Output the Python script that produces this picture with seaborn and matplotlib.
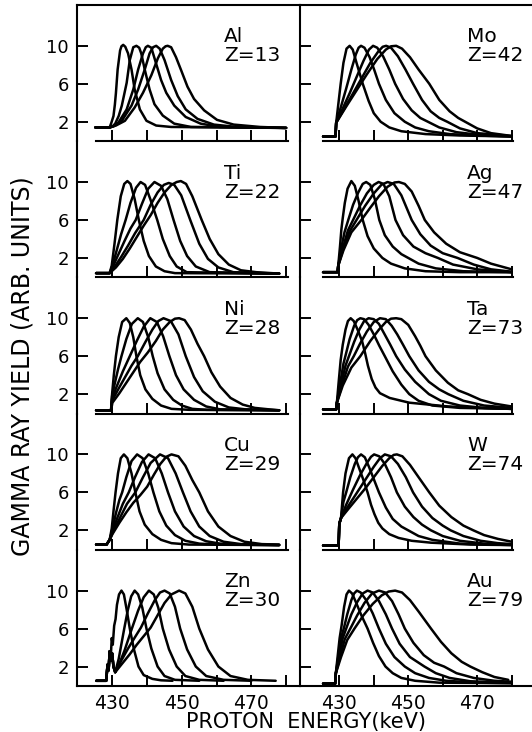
import matplotlib
matplotlib.use("Agg")
import matplotlib.pyplot as plt
import pandas as pd
import seaborn as sns

# ---------------- data ----------------
ELEMENTS = ["Al", "Ti", "Ni", "Cu", "Zn", "Mo", "Ag", "Ta", "W", "Au"]
Z_NUMBERS = [13, 22, 28, 29, 30, 42, 47, 73, 74, 79]
Y_TICKS = [2, 6, 10]
X_TICKS = [430, 440, 450, 460, 470, 480]
X_TICK_LABELS = ["430", "", "450", "", "470", ""]

AL_CURVES = [
    [(425.1, 1.4), (429.2, 1.4), (429.7, 1.9), (430.3, 2.6), (430.7, 3.8), (431.0, 5.0), (431.5, 7.5), (432.2, 9.5), (432.6, 9.95),
     (433.1, 10.1), (433.7, 9.9), (434.5, 9.2), (435.5, 7.5), (436.4, 5.4), (437.9, 3.3), (439.8, 2.1), (442.6, 1.6), (446.9, 1.45),
     (480.0, 1.35)],
    [(425.1, 1.4), (429.2, 1.4), (430.0, 1.5), (430.8, 1.8), (431.8, 2.6), (432.7, 3.7), (434.1, 6.1), (435.0, 8.5), (436.0, 9.85),
     (436.9, 10.0), (437.7, 9.8), (438.3, 9.2), (439.3, 7.5), (440.7, 5.4), (442.1, 3.85), (444.5, 2.65), (447.8, 1.8), (452.6, 1.45),
     (480.0, 1.35)],
    [(425.1, 1.4), (429.2, 1.4), (430.3, 1.55), (431.7, 1.9), (434.1, 3.3), (436.0, 5.4), (437.4, 7.5), (438.8, 9.2), (439.6, 9.85),
     (440.2, 10.0), (441.2, 9.8), (442.6, 8.1), (444.0, 6.4), (445.5, 5.05), (447.8, 3.7), (451.1, 2.5), (455.4, 1.8), (461.0, 1.45),
     (480.0, 1.35)],
    [(425.1, 1.4), (429.2, 1.4), (430.5, 1.55), (432.7, 2.1), (435.5, 3.7), (437.4, 5.4), (439.3, 7.5), (440.7, 9.2), (441.7, 9.85),
     (442.6, 10.0), (443.6, 9.7), (445.0, 8.5), (446.9, 6.4), (448.8, 4.7), (451.1, 3.3), (454.5, 2.3), (459.2, 1.7), (465.8, 1.45),
     (480.0, 1.35)],
    [(425.1, 1.4), (429.2, 1.4), (431.0, 1.6), (433.6, 2.1), (436.4, 3.5), (438.8, 5.05), (441.2, 6.9), (443.1, 8.7), (444.5, 9.7),
     (445.3, 9.95), (445.9, 10.0), (446.9, 9.85), (448.3, 8.8), (449.7, 7.5), (451.6, 5.7), (453.5, 4.4), (456.4, 3.2), (460.1, 2.2),
     (464.9, 1.7), (472.5, 1.45), (480.0, 1.35)],
]

TI_CURVES = [
    [(425.3, 0.4), (429.2, 0.4), (429.8, 1.2), (430.6, 3.5), (431.4, 6.0), (432.4, 8.5), (433.4, 9.8), (434.3, 10.1), (435.2, 9.8),
     (436.4, 8.2), (437.6, 6.0), (439.0, 3.8), (440.5, 2.2), (442.5, 1.1), (445.0, 0.6), (448.0, 0.4), (478.0, 0.35)],
    [(425.3, 0.4), (429.2, 0.4), (430.0, 1.2), (431.0, 2.5), (432.5, 4.5), (433.8, 6.0), (435.2, 7.8), (436.8, 9.4), (438.1, 10.0),
     (439.4, 9.7), (441.0, 8.1), (442.9, 6.0), (444.5, 4.0), (446.5, 2.2), (448.5, 1.1), (451.4, 0.5), (478.0, 0.35)],
    [(425.3, 0.4), (429.2, 0.4), (430.0, 1.0), (431.5, 2.2), (433.5, 3.8), (435.2, 5.1), (436.7, 6.0), (438.5, 7.7), (440.3, 9.3),
     (442.1, 10.0), (444.0, 9.6), (445.8, 8.2), (447.6, 6.0), (449.5, 3.8), (451.5, 2.2), (454.0, 1.1), (458.0, 0.5), (478.0, 0.35)],
    [(425.3, 0.4), (429.2, 0.4), (430.5, 1.0), (432.5, 2.1), (434.5, 3.3), (436.5, 4.6), (439.0, 6.0), (441.0, 7.6), (443.0, 8.9),
     (444.8, 9.7), (446.2, 9.9), (447.8, 9.7), (449.8, 8.6), (452.4, 6.0), (455.0, 3.5), (457.5, 1.9), (460.5, 1.0), (464.8, 0.5), (478.0, 0.35)],
    [(425.3, 0.4), (429.2, 0.4), (431.0, 1.0), (433.0, 1.9), (435.0, 3.0), (437.0, 4.2), (439.0, 5.4), (441.0, 6.5), (443.0, 7.8),
     (445.0, 8.9), (447.0, 9.7), (448.5, 10.0), (449.7, 10.1), (451.2, 9.8), (453.0, 8.5), (455.7, 6.0), (458.0, 4.0), (460.5, 2.4),
     (463.5, 1.3), (467.0, 0.7), (471.4, 0.5), (478.0, 0.35)],
]

NI_CURVES = [
    [(425.3, 0.3), (429.6, 0.3), (429.9, 2.0), (430.4, 4.0), (431.0, 6.0), (431.8, 8.0), (432.8, 9.6), (434.0, 10.0), (435.0, 9.5),
     (436.0, 8.0), (436.9, 6.0), (438.0, 4.0), (439.5, 2.5), (441.5, 1.5), (444.0, 0.8), (447.0, 0.45), (452.0, 0.35), (478.0, 0.3)],
    [(425.3, 0.3), (429.6, 0.3), (429.9, 1.8), (430.6, 3.0), (431.6, 4.6), (432.6, 6.0), (434.0, 7.8), (435.6, 9.4), (437.3, 10.0),
     (438.8, 9.6), (440.3, 8.0), (441.6, 6.0), (443.0, 4.2), (445.0, 2.5), (447.5, 1.4), (450.0, 0.8), (453.0, 0.45), (457.0, 0.35), (478.0, 0.3)],
    [(425.3, 0.3), (429.6, 0.3), (429.9, 1.5), (431.0, 2.6), (433.0, 4.4), (435.0, 6.0), (437.0, 7.6), (439.0, 9.1), (440.9, 10.0),
     (442.8, 9.6), (444.6, 8.1), (446.4, 6.0), (448.3, 4.0), (450.5, 2.5), (453.5, 1.4), (457.0, 0.7), (461.0, 0.4), (478.0, 0.3)],
    [(425.3, 0.3), (429.6, 0.3), (429.9, 1.3), (431.5, 2.4), (433.5, 3.7), (435.5, 5.0), (437.3, 6.0), (439.5, 7.5), (441.5, 8.8),
     (443.2, 9.7), (444.7, 10.0), (446.8, 9.7), (449.0, 8.3), (451.1, 6.0), (453.5, 3.8), (456.0, 2.3), (459.5, 1.2), (463.5, 0.6),
     (468.3, 0.4), (478.0, 0.3)],
    [(425.3, 0.3), (429.6, 0.3), (430.0, 1.1), (432.0, 2.1), (434.0, 3.2), (436.0, 4.3), (438.0, 5.4), (440.2, 6.4), (442.5, 7.6),
     (444.5, 8.8), (446.5, 9.6), (448.0, 9.95), (449.2, 10.0), (450.8, 9.8), (452.6, 8.8), (454.5, 7.3), (456.4, 6.0), (458.5, 4.3),
     (461.0, 2.8), (464.0, 1.6), (467.5, 0.9), (471.0, 0.55), (475.0, 0.4), (478.0, 0.3)],
]

CU_CURVES = [
    [(425.3, 0.5), (428.3, 0.5), (429.2, 1.0), (429.8, 2.2), (430.3, 4.0), (430.9, 6.0), (431.6, 8.0), (432.4, 9.6), (433.3, 10.0),
     (434.3, 9.6), (435.5, 8.0), (436.6, 6.0), (437.8, 4.0), (439.3, 2.6), (441.5, 1.6), (444.0, 1.0), (447.0, 0.65), (452.0, 0.5), (478.0, 0.45)],
    [(425.3, 0.5), (428.3, 0.5), (429.2, 1.0), (430.0, 2.1), (431.0, 3.8), (432.0, 5.2), (432.8, 6.0), (434.0, 7.6), (435.5, 9.3),
     (437.1, 10.0), (438.7, 9.6), (440.3, 8.0), (441.8, 6.0), (443.5, 4.0), (445.5, 2.5), (448.0, 1.5), (451.0, 0.9), (455.0, 0.6),
     (460.0, 0.5), (478.0, 0.45)],
    [(425.3, 0.5), (428.3, 0.5), (429.2, 1.0), (430.0, 1.9), (431.5, 3.4), (433.0, 4.8), (434.7, 6.0), (436.5, 7.6), (438.5, 9.2),
     (440.4, 10.0), (442.3, 9.6), (444.2, 8.0), (446.0, 6.0), (448.0, 4.0), (450.5, 2.4), (453.5, 1.4), (457.0, 0.85), (461.0, 0.6),
     (466.0, 0.5), (478.0, 0.45)],
    [(425.3, 0.5), (428.3, 0.5), (429.2, 1.0), (430.0, 1.7), (432.0, 3.2), (434.2, 4.8), (436.6, 6.0), (438.8, 7.6), (441.0, 9.1),
     (443.7, 10.0), (446.0, 9.6), (448.2, 8.0), (450.3, 6.0), (452.5, 4.0), (455.0, 2.4), (458.0, 1.4), (462.0, 0.8), (467.0, 0.55),
     (473.0, 0.5), (478.0, 0.45)],
    [(425.3, 0.5), (428.3, 0.5), (429.2, 1.0), (430.0, 1.6), (432.0, 2.8), (434.0, 3.9), (436.0, 4.9), (438.0, 5.7), (440.0, 6.6),
     (442.0, 7.9), (443.8, 9.0), (445.5, 9.75), (447.0, 10.0), (449.0, 9.8), (451.0, 8.8), (453.0, 7.3), (455.0, 6.0), (457.5, 4.0),
     (460.5, 2.4), (464.0, 1.4), (468.0, 0.8), (473.0, 0.55), (478.0, 0.5)],
]

ZN_CURVES = [
    [(425.4, 0.5), (428.2, 0.5), (428.6, 2.2), (428.9, 1.6), (429.2, 3.6), (429.5, 2.8), (429.8, 5.0), (430.1, 4.3), (430.5, 6.3),
     (430.9, 7.0), (431.3, 8.5), (431.9, 9.6), (432.6, 10.0), (433.3, 9.6), (434.1, 8.0), (435.0, 6.0), (436.2, 3.8), (437.5, 2.0),
     (439.0, 1.1), (441.5, 0.7), (444.0, 0.55), (447.3, 0.5)],
    [(425.4, 0.5), (428.2, 0.5), (428.6, 2.2), (428.9, 1.6), (429.2, 3.6), (429.5, 2.6), (429.9, 3.4), (430.3, 2.0), (430.8, 1.4),
     (431.8, 2.8), (432.7, 4.6), (433.4, 6.0), (434.4, 7.9), (435.4, 9.4), (436.4, 10.0), (437.4, 9.6), (438.6, 8.2), (439.8, 6.0),
     (441.2, 3.9), (443.0, 2.0), (445.0, 1.0), (448.0, 0.6), (455.0, 0.5)],
    [(425.4, 0.5), (428.2, 0.5), (428.6, 2.2), (428.9, 1.6), (429.2, 3.6), (429.5, 2.6), (429.9, 3.4), (430.3, 2.0), (430.8, 1.4),
     (432.0, 2.3), (433.5, 3.7), (435.6, 6.0), (437.4, 7.9), (439.0, 9.3), (440.5, 10.0), (441.9, 9.6), (443.2, 8.2), (444.5, 6.0),
     (446.3, 3.8), (448.5, 2.0), (451.0, 1.0), (455.0, 0.6), (462.0, 0.5)],
    [(425.4, 0.5), (428.2, 0.5), (428.6, 2.2), (428.9, 1.6), (429.2, 3.6), (429.5, 2.6), (429.9, 3.4), (430.3, 2.0), (430.8, 1.4),
     (432.5, 2.6), (434.5, 3.9), (436.5, 5.1), (438.2, 6.1), (440.2, 7.6), (442.2, 9.0), (443.7, 9.8), (445.0, 10.0), (446.5, 9.7),
     (448.0, 8.3), (449.5, 6.0), (451.5, 3.8), (454.0, 2.0), (457.0, 1.0), (462.0, 0.6), (470.0, 0.5)],
    [(425.4, 0.5), (428.2, 0.5), (428.6, 2.2), (428.9, 1.6), (429.2, 3.6), (429.5, 2.6), (429.9, 3.4), (430.3, 2.0), (430.8, 1.4),
     (433.0, 2.4), (435.0, 3.3), (437.0, 4.3), (439.0, 5.2), (441.0, 6.1), (443.0, 7.4), (445.0, 8.7), (447.0, 9.6), (449.2, 10.0),
     (451.0, 9.7), (453.0, 8.3), (455.0, 6.0), (457.5, 3.8), (460.5, 2.0), (464.0, 1.0), (469.0, 0.6), (477.0, 0.5)],
]

MO_CURVES = [
    [(425.3, 0.45), (428.9, 0.45), (429.1, 1.9), (429.7, 3.8), (430.4, 6.0), (431.2, 8.2), (432.1, 9.7), (433.0, 10.0), (433.9, 9.6),
     (435.0, 8.2), (436.8, 6.0), (438.5, 4.2), (440.0, 2.9), (442.0, 2.0), (444.5, 1.4), (448.0, 1.0), (455.0, 0.7), (465.0, 0.55), (480.0, 0.45)],
    [(425.3, 0.45), (428.9, 0.45), (429.1, 1.9), (430.5, 3.6), (432.0, 5.5), (433.5, 7.5), (434.8, 9.1), (435.6, 9.8), (436.3, 10.0),
     (437.3, 9.8), (438.8, 8.8), (440.2, 7.4), (441.5, 6.0), (443.5, 4.3), (446.0, 2.9), (449.0, 2.0), (452.0, 1.4), (456.0, 1.0),
     (462.0, 0.7), (470.0, 0.55), (480.0, 0.45)],
    [(425.3, 0.45), (428.9, 0.45), (429.1, 1.9), (431.0, 3.4), (433.0, 5.0), (435.0, 6.7), (437.0, 8.4), (438.6, 9.6), (439.8, 10.0),
     (441.0, 9.8), (442.7, 8.9), (444.5, 7.5), (446.2, 6.0), (448.5, 4.4), (451.0, 3.2), (453.5, 2.4), (455.7, 2.0), (459.0, 1.4),
     (464.0, 0.9), (471.0, 0.6), (480.0, 0.45)],
    [(425.3, 0.45), (428.9, 0.45), (429.1, 1.9), (431.5, 3.4), (434.0, 5.0), (436.5, 6.6), (439.0, 8.2), (441.3, 9.4), (442.6, 9.9),
     (443.6, 10.0), (445.0, 9.8), (447.0, 8.9), (449.2, 7.5), (451.4, 6.0), (454.0, 4.3), (456.5, 3.1), (459.0, 2.4), (461.3, 2.0),
     (465.0, 1.3), (470.0, 0.8), (480.0, 0.5)],
    [(425.3, 0.45), (428.9, 0.45), (429.1, 1.9), (432.0, 3.6), (435.0, 5.3), (438.0, 7.0), (441.0, 8.6), (443.5, 9.6), (445.0, 9.95),
     (446.5, 10.0), (448.2, 9.7), (450.5, 8.8), (453.0, 7.5), (456.1, 6.0), (459.0, 4.3), (462.0, 3.1), (464.5, 2.4), (466.5, 2.0),
     (470.0, 1.3), (474.0, 0.8), (480.0, 0.5)],
]

AG_CURVES = [
    [(425.3, 0.5), (429.5, 0.5), (429.7, 1.2), (430.2, 3.2), (430.6, 5.0), (431.0, 6.2), (431.6, 7.8), (432.4, 9.3), (433.5, 10.1),
     (434.5, 9.6), (435.6, 8.0), (436.8, 6.0), (438.2, 4.3), (440.0, 3.0), (442.5, 2.0), (445.0, 1.4), (449.0, 0.9), (455.0, 0.6),
     (465.0, 0.5), (480.0, 0.5)],
    [(425.3, 0.5), (429.5, 0.5), (429.7, 1.2), (430.5, 2.9), (431.5, 4.7), (432.6, 6.0), (434.0, 7.6), (435.5, 8.9), (436.8, 9.8),
     (437.8, 10.0), (439.0, 9.7), (440.3, 8.2), (441.6, 6.0), (443.2, 4.4), (445.5, 3.2), (448.0, 2.4), (450.0, 2.0), (453.0, 1.4),
     (458.0, 0.9), (466.0, 0.6), (480.0, 0.5)],
    [(425.3, 0.5), (429.5, 0.5), (429.7, 1.2), (431.0, 3.0), (432.5, 4.9), (434.0, 6.0), (436.0, 7.5), (438.0, 8.8), (440.0, 9.7),
     (441.4, 10.0), (442.8, 9.8), (444.5, 8.5), (446.3, 6.0), (448.5, 4.4), (451.5, 3.2), (455.0, 2.5), (458.6, 2.0), (463.0, 1.3),
     (470.0, 0.8), (480.0, 0.5)],
    [(425.3, 0.5), (429.5, 0.5), (429.7, 1.2), (431.0, 2.8), (433.0, 4.8), (435.0, 6.0), (437.5, 7.5), (440.0, 8.8), (442.2, 9.7),
     (444.0, 10.0), (445.8, 9.8), (448.0, 8.6), (451.0, 6.0), (453.5, 4.5), (456.5, 3.3), (460.0, 2.5), (464.3, 2.0), (469.0, 1.3),
     (474.0, 0.8), (480.0, 0.55)],
    [(425.3, 0.5), (429.5, 0.5), (429.7, 1.2), (431.2, 2.8), (433.5, 4.7), (436.4, 6.0), (439.0, 7.3), (441.5, 8.5), (444.0, 9.5),
     (446.0, 9.95), (447.3, 10.0), (449.0, 9.8), (451.0, 9.0), (453.0, 7.5), (454.8, 6.0), (457.5, 4.7), (461.0, 3.5), (465.0, 2.6),
     (470.0, 2.0), (474.0, 1.4), (478.0, 1.0), (480.0, 0.8)],
]

TA_CURVES = [
    [(425.3, 0.4), (429.1, 0.4), (429.3, 1.1), (429.8, 3.2), (430.4, 5.6), (431.0, 7.2), (431.8, 8.8), (432.5, 9.7), (433.3, 10.0),
     (434.2, 9.7), (435.3, 8.8), (436.6, 7.6), (437.5, 6.3), (438.3, 5.0), (439.4, 3.6), (440.5, 2.7), (441.8, 2.1), (444.6, 1.6),
     (450.3, 1.1), (461.6, 0.7), (475.0, 0.5), (480.0, 0.45)],
    [(425.3, 0.4), (429.1, 0.4), (429.3, 1.1), (430.2, 3.0), (431.2, 5.2), (431.9, 6.2), (433.0, 7.8), (434.3, 9.2), (435.2, 9.8),
     (436.1, 10.0), (437.2, 9.9), (438.5, 9.3), (440.0, 8.3), (441.6, 7.1), (443.2, 6.0), (445.5, 4.4), (448.0, 3.0), (450.3, 2.0),
     (453.0, 1.3), (457.0, 0.8), (465.0, 0.55), (480.0, 0.45)],
    [(425.3, 0.4), (429.1, 0.4), (429.3, 1.1), (430.5, 3.0), (431.8, 5.0), (432.8, 6.0), (434.3, 7.5), (435.8, 8.8), (437.2, 9.7),
     (438.5, 10.0), (440.0, 9.9), (441.5, 9.4), (443.0, 8.4), (444.8, 7.2), (446.5, 6.0), (449.0, 4.6), (452.0, 3.3), (456.0, 2.0),
     (459.5, 1.3), (465.0, 0.8), (472.0, 0.55), (480.0, 0.45)],
    [(425.3, 0.4), (429.1, 0.4), (429.3, 1.1), (431.0, 3.2), (432.5, 4.9), (434.2, 6.0), (436.0, 7.3), (438.0, 8.6), (440.0, 9.6),
     (441.8, 10.0), (443.5, 9.9), (445.2, 9.2), (446.8, 8.3), (448.5, 7.2), (450.3, 6.0), (453.0, 4.5), (456.0, 3.3), (459.0, 2.5),
     (461.6, 2.0), (466.0, 1.3), (472.0, 0.8), (480.0, 0.55)],
    [(425.3, 0.4), (429.1, 0.4), (429.3, 1.1), (431.0, 2.9), (433.5, 4.8), (436.1, 6.0), (439.0, 7.6), (441.5, 8.8), (443.5, 9.6),
     (445.0, 9.95), (446.5, 10.0), (448.0, 9.9), (450.0, 9.3), (452.0, 8.1), (453.5, 7.1), (455.0, 6.0), (458.0, 4.5), (461.5, 3.2),
     (464.5, 2.4), (467.3, 2.0), (471.0, 1.4), (475.0, 1.0), (480.0, 0.7)],
]

W_CURVES = [
    [(425.3, 0.4), (429.8, 0.4), (430.0, 2.7), (430.5, 3.3), (431.1, 6.0), (431.8, 8.0), (432.8, 9.6), (433.8, 10.0), (434.7, 9.6),
     (435.6, 8.7), (436.9, 7.4), (438.2, 6.0), (439.2, 4.7), (440.2, 3.7), (441.3, 2.8), (442.5, 2.2), (444.5, 1.6), (447.2, 1.2),
     (451.0, 0.9), (456.6, 0.7), (468.0, 0.5), (480.0, 0.45)],
    [(425.3, 0.4), (429.8, 0.4), (430.0, 2.7), (430.5, 3.3), (431.2, 5.0), (432.0, 6.0), (433.2, 7.6), (434.5, 9.0), (435.4, 9.7),
     (436.3, 10.0), (437.4, 9.7), (438.6, 8.7), (440.0, 7.4), (441.5, 6.0), (443.5, 4.4), (445.5, 3.2), (448.0, 2.4), (450.0, 2.0),
     (453.0, 1.4), (457.0, 1.0), (465.0, 0.6), (480.0, 0.45)],
    [(425.3, 0.4), (429.8, 0.4), (430.0, 2.7), (430.5, 3.3), (432.0, 4.7), (434.0, 6.3), (436.0, 7.8), (438.0, 9.1), (439.2, 9.75),
     (440.1, 10.0), (441.6, 9.8), (443.2, 9.0), (445.0, 7.6), (446.7, 6.0), (449.0, 4.5), (451.5, 3.4), (454.0, 2.6), (456.6, 2.0),
     (460.0, 1.4), (465.0, 0.9), (472.0, 0.6), (480.0, 0.5)],
    [(425.3, 0.4), (429.8, 0.4), (430.0, 2.7), (430.5, 3.3), (432.5, 4.5), (435.0, 5.9), (437.5, 7.3), (440.0, 8.7), (441.8, 9.6),
     (443.2, 10.0), (445.0, 9.8), (447.0, 9.0), (449.3, 7.6), (451.4, 6.0), (454.0, 4.5), (457.0, 3.3), (460.0, 2.5), (462.3, 2.0),
     (466.0, 1.4), (471.0, 0.9), (476.0, 0.65), (480.0, 0.55)],
    [(425.3, 0.4), (429.8, 0.4), (430.0, 2.7), (430.5, 3.3), (432.5, 4.2), (435.0, 5.3), (437.5, 6.4), (440.0, 7.6), (442.5, 8.8),
     (444.5, 9.6), (445.8, 9.95), (446.7, 10.0), (448.3, 9.8), (450.5, 8.9), (453.0, 7.6), (456.1, 6.0), (459.0, 4.6), (462.5, 3.4),
     (466.0, 2.5), (468.9, 2.0), (472.0, 1.5), (476.0, 1.1), (480.0, 0.8)],
]

AU_CURVES = [
    [(425.3, 0.2), (428.8, 0.2), (429.0, 1.3), (429.5, 3.0), (430.1, 5.0), (430.7, 6.4), (431.4, 8.3), (432.1, 9.6), (432.8, 10.0),
     (433.7, 9.7), (434.8, 8.8), (436.4, 7.4), (438.2, 6.0), (439.8, 4.5), (441.5, 3.1), (443.4, 2.0), (445.5, 1.3), (448.0, 0.8),
     (452.0, 0.5), (459.0, 0.3), (480.0, 0.25)],
    [(425.3, 0.2), (428.8, 0.2), (429.0, 1.3), (429.7, 3.0), (430.5, 5.0), (431.3, 6.0), (432.3, 7.5), (433.5, 9.0), (434.3, 9.7),
     (435.1, 10.0), (436.2, 9.8), (437.8, 9.0), (439.7, 7.6), (441.5, 6.0), (443.5, 4.4), (446.0, 3.0), (449.0, 2.0), (452.0, 1.3),
     (456.0, 0.8), (461.0, 0.5), (470.0, 0.3), (480.0, 0.25)],
    [(425.3, 0.2), (428.8, 0.2), (429.0, 1.3), (430.0, 3.2), (431.0, 5.0), (432.0, 6.0), (433.5, 7.5), (435.2, 8.8), (436.8, 9.7),
     (438.2, 10.0), (439.7, 9.8), (441.5, 8.9), (443.5, 7.5), (445.3, 6.0), (447.5, 4.4), (450.5, 3.0), (454.7, 2.0), (458.0, 1.3),
     (462.0, 0.8), (468.0, 0.45), (480.0, 0.3)],
    [(425.3, 0.2), (428.8, 0.2), (429.0, 1.3), (430.2, 3.0), (431.6, 4.9), (433.2, 6.0), (435.2, 7.4), (437.3, 8.7), (439.5, 9.7),
     (441.5, 10.0), (443.3, 9.8), (445.3, 8.9), (447.2, 7.5), (449.0, 6.0), (451.5, 4.5), (454.5, 3.2), (457.5, 2.4), (460.4, 2.0),
     (464.0, 1.3), (469.0, 0.8), (475.0, 0.5), (480.0, 0.4)],
    [(425.3, 0.2), (428.8, 0.2), (429.0, 1.3), (430.5, 3.0), (432.3, 4.8), (434.4, 6.0), (437.0, 7.4), (439.7, 8.6), (442.3, 9.5),
     (444.3, 9.9), (446.2, 10.0), (448.2, 9.8), (450.5, 9.0), (453.0, 7.8), (456.6, 6.0), (459.5, 4.6), (462.5, 3.4), (465.5, 2.5),
     (468.0, 2.0), (471.5, 1.4), (475.0, 0.9), (479.0, 0.6)],
]

CURVE_SETS = [AL_CURVES, TI_CURVES, NI_CURVES, CU_CURVES, ZN_CURVES,
              MO_CURVES, AG_CURVES, TA_CURVES, W_CURVES, AU_CURVES]

# ---------------- build a long table ----------------
rows = []
for el, curves in zip(ELEMENTS, CURVE_SETS):
    for ci, pts in enumerate(curves):
        for k, (e, y) in enumerate(pts):
            rows.append({"element": el, "curve": ci, "order": k, "energy": e, "yield": y})
df = pd.DataFrame(rows)

# ---------------- figure ----------------
sns.set_theme(style="white")
plt.rcParams["font.family"] = ["DejaVu Sans"]

W_PX, H_PX = 532, 732
fig = plt.figure(figsize=(W_PX / 100, H_PX / 100), dpi=100)

TOP = 5.0
ROW_H = 136.2
COLS = [(77.0, 223.0, (419.8, 484.0)), (300.0, 232.0, (418.6, 485.9))]
YLIM = (-0.05, 14.3)
LW_SPINE = 1.5

for idx, (el, zn) in enumerate(zip(ELEMENTS, Z_NUMBERS)):
    col, row = divmod(idx, 5)
    x0, w, xlim = COLS[col]
    y_top = TOP + ROW_H * row
    ax = fig.add_axes([x0 / W_PX, (H_PX - y_top - ROW_H) / H_PX, w / W_PX, ROW_H / H_PX])
    ax.set_facecolor("none")
    sub = df[df["element"] == el]
    sns.lineplot(data=sub, x="energy", y="yield", units="curve", estimator=None, sort=False,
                 color="black", linewidth=1.8, legend=False, ax=ax)
    for ln in ax.get_lines():
        ln.set_solid_joinstyle("round")
        ln.set_solid_capstyle("round")
    ax.set_xlim(*xlim)
    ax.set_ylim(*YLIM)
    ax.set_xlabel("")
    ax.set_ylabel("")

    for s in ax.spines.values():
        s.set_color("black")
        s.set_linewidth(LW_SPINE)
    ax.spines["right"].set_visible(False)
    ax.spines["top"].set_visible(row == 0)
    if row < 4:
        ax.spines["bottom"].set_bounds(425.3, 480.5)

    ax.set_xticks(X_TICKS)
    if row == 4:
        ax.set_xticklabels(X_TICK_LABELS)
    else:
        ax.set_xticklabels([""] * len(X_TICKS))
    ax.set_yticks(Y_TICKS)
    if col == 0:
        ax.set_yticklabels([str(v) for v in Y_TICKS])
    else:
        ax.set_yticklabels([""] * len(Y_TICKS))
    ax.tick_params(axis="x", direction="in", length=8, width=1.4, colors="black",
                   labelsize=13.5, pad=6, bottom=True, top=False)
    ax.tick_params(axis="y", direction="in", length=8, width=1.4, colors="black",
                   labelsize=13, pad=6, left=True, right=False)

    tx = 0.66 if col == 0 else 0.72
    ax.text(tx, 0.835, f"{el}\nZ={zn}", transform=ax.transAxes, ha="left", va="top",
            fontsize=14.5, linespacing=1.0, color="black")

fig.text(23 / W_PX, 1 - 366 / H_PX, "GAMMA RAY YIELD (ARB. UNITS)", rotation=90,
         ha="center", va="center", fontsize=17, color="black")
fig.text(306 / W_PX, 1 - 722 / H_PX, "PROTON  ENERGY(keV)", ha="center", va="center",
         fontsize=15, color="black")

fig.savefig("out.png", dpi=100, facecolor="white")
